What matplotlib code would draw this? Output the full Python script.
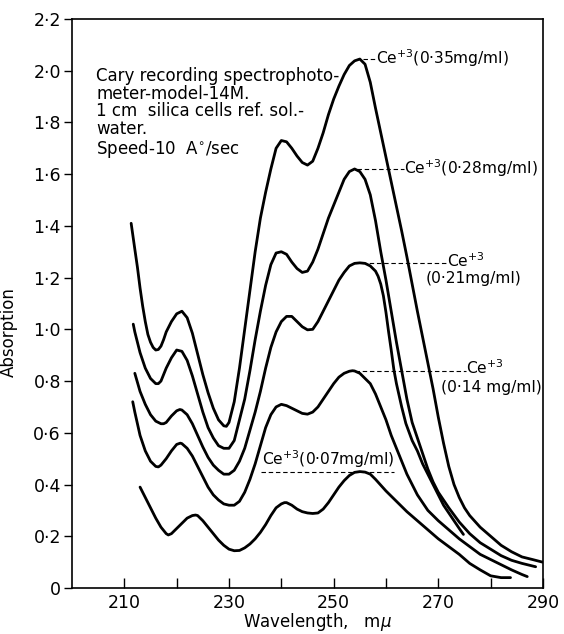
import matplotlib
matplotlib.use("Agg")
import matplotlib.pyplot as plt
from matplotlib.ticker import FixedLocator

plt.rcParams['font.family'] = ['DejaVu Sans']
plt.rcParams['mathtext.fontset'] = 'dejavusans'

# Absorption spectra of Ce(+3) solutions, wavelength in m-micron
wl_035 = [211.3, 212, 212.5, 213, 213.5, 214, 214.5, 215, 215.5, 216, 216.5, 217, 217.5, 218, 219, 220,
          221, 222, 223, 224, 225, 226, 227, 228, 229, 229.5, 230, 231, 232, 233, 234, 235, 236, 237,
          238, 239, 240, 241, 242, 243, 244, 245, 246, 247, 248, 249, 250, 251, 252, 253, 254, 255,
          256, 257, 258, 259, 260, 261, 262, 263, 264, 265, 266, 267, 268, 269, 270, 271, 272, 273,
          274, 275, 276, 278, 280, 282, 284, 286, 288, 289.9]
ab_035 = [1.41, 1.31, 1.24, 1.16, 1.09, 1.03, 0.98, 0.95, 0.93, 0.92, 0.922, 0.935, 0.96, 0.99, 1.03,
          1.06, 1.07, 1.045, 0.985, 0.905, 0.825, 0.755, 0.695, 0.65, 0.627, 0.625, 0.64, 0.72, 0.85,
          1.00, 1.15, 1.30, 1.43, 1.53, 1.62, 1.70, 1.73, 1.725, 1.70, 1.67, 1.645, 1.635, 1.65, 1.70,
          1.76, 1.83, 1.89, 1.94, 1.985, 2.02, 2.038, 2.045, 2.025, 1.955, 1.855, 1.76, 1.665, 1.57,
          1.475, 1.38, 1.28, 1.175, 1.07, 0.97, 0.87, 0.77, 0.66, 0.56, 0.47, 0.40, 0.35, 0.31, 0.28,
          0.235, 0.20, 0.165, 0.14, 0.12, 0.11, 0.10]

wl_028 = [211.7, 212, 213, 214, 215, 216, 216.5, 217, 218, 219, 220, 221, 222, 223, 224, 225, 226, 227,
          228, 229, 230, 231, 232, 233, 234, 235, 236, 237, 238, 239, 240, 241, 242, 243, 244, 245,
          246, 247, 248, 249, 250, 251, 252, 253, 254, 255, 256, 257, 258, 259, 260, 261, 262, 263,
          264, 265, 266, 267, 268, 269, 270, 272, 274, 276, 278, 280, 282, 284, 286, 288.6]
ab_028 = [1.02, 0.99, 0.91, 0.85, 0.81, 0.79, 0.79, 0.80, 0.85, 0.89, 0.92, 0.915, 0.88, 0.82, 0.75,
          0.68, 0.62, 0.58, 0.55, 0.54, 0.54, 0.57, 0.65, 0.73, 0.84, 0.96, 1.07, 1.17, 1.25, 1.295,
          1.30, 1.29, 1.26, 1.235, 1.22, 1.225, 1.26, 1.31, 1.37, 1.43, 1.48, 1.53, 1.58, 1.61, 1.62,
          1.61, 1.58, 1.52, 1.42, 1.30, 1.19, 1.07, 0.95, 0.84, 0.73, 0.64, 0.58, 0.52, 0.46, 0.41,
          0.37, 0.31, 0.255, 0.21, 0.175, 0.15, 0.125, 0.107, 0.095, 0.082]

wl_021 = [212, 213, 214, 215, 216, 217, 217.5, 218, 219, 220, 220.6, 221, 222, 223, 224, 225, 226, 227,
          228, 229, 230, 231, 232, 233, 234, 235, 236, 237, 238, 239, 240, 241, 242, 243, 244, 245,
          246, 247, 248, 249, 250, 251, 252, 253, 254, 255, 256, 257, 258, 258.5, 259, 259.5, 260,
          260.5, 261, 261.5, 262, 263, 263.8, 265, 266, 267, 268, 269, 270, 271, 272, 273, 274, 274.8]
ab_021 = [0.83, 0.76, 0.71, 0.67, 0.645, 0.635, 0.635, 0.64, 0.665, 0.685, 0.69, 0.688, 0.67, 0.635,
          0.59, 0.545, 0.505, 0.475, 0.455, 0.44, 0.44, 0.455, 0.49, 0.54, 0.61, 0.68, 0.76, 0.85,
          0.93, 0.99, 1.03, 1.05, 1.05, 1.03, 1.01, 0.998, 1.00, 1.03, 1.07, 1.11, 1.15, 1.19, 1.22,
          1.245, 1.255, 1.257, 1.255, 1.245, 1.225, 1.205, 1.175, 1.13, 1.065, 0.99, 0.92, 0.845,
          0.79, 0.70, 0.636, 0.57, 0.53, 0.48, 0.44, 0.40, 0.36, 0.32, 0.29, 0.26, 0.23, 0.207]

wl_014 = [211.6, 212, 213, 214, 215, 216, 216.5, 217, 218, 219, 220, 220.7, 221, 222, 223, 224, 225,
          226, 227, 228, 229, 230, 231, 232, 233, 234, 235, 236, 237, 238, 239, 240, 241, 242, 243,
          244, 245, 246, 247, 248, 249, 250, 251, 252, 253, 253.6, 254, 255, 256, 257, 258, 259, 260,
          261, 262, 263, 264, 265, 266, 268, 270, 272, 274, 276, 278, 280, 282, 284, 286, 287]
ab_014 = [0.72, 0.68, 0.59, 0.53, 0.49, 0.47, 0.468, 0.475, 0.50, 0.53, 0.555, 0.56, 0.558, 0.54, 0.51,
          0.47, 0.43, 0.39, 0.36, 0.34, 0.325, 0.32, 0.32, 0.335, 0.37, 0.42, 0.48, 0.55, 0.62, 0.67,
          0.70, 0.71, 0.705, 0.695, 0.685, 0.675, 0.672, 0.68, 0.70, 0.73, 0.76, 0.79, 0.815, 0.83,
          0.838, 0.84, 0.839, 0.83, 0.81, 0.79, 0.75, 0.70, 0.65, 0.59, 0.54, 0.49, 0.44, 0.40, 0.36,
          0.30, 0.26, 0.225, 0.19, 0.16, 0.13, 0.11, 0.09, 0.07, 0.052, 0.044]

wl_007 = [213, 214, 215, 216, 217, 218, 218.4, 219, 220, 221, 222, 223, 223.6, 224, 225, 226, 227, 228,
          229, 230, 231, 232, 233, 234, 235, 236, 237, 238, 239, 240, 240.6, 241, 242, 243, 244, 245,
          246, 247, 248, 249, 250, 251, 252, 253, 254, 255, 256, 257, 258, 260, 262, 264, 266, 268,
          270, 272, 274, 276, 278, 280, 282, 283.8]
ab_007 = [0.39, 0.35, 0.31, 0.27, 0.235, 0.21, 0.205, 0.21, 0.23, 0.25, 0.27, 0.28, 0.282, 0.28, 0.26,
          0.235, 0.21, 0.185, 0.165, 0.15, 0.144, 0.145, 0.155, 0.17, 0.19, 0.215, 0.245, 0.28, 0.31,
          0.325, 0.33, 0.33, 0.32, 0.305, 0.295, 0.29, 0.288, 0.29, 0.305, 0.33, 0.36, 0.39, 0.415,
          0.435, 0.447, 0.45, 0.448, 0.44, 0.42, 0.375, 0.335, 0.295, 0.26, 0.225, 0.19, 0.16, 0.13,
          0.095, 0.07, 0.047, 0.04, 0.04]

concentrations = ['0·35mg/ml', '0·28mg/ml', '0·21mg/ml', '0·14 mg/ml', '0·07mg/ml']
peak_wl = [255.0, 254.0, 255.0, 253.6, 255.0]
peak_ab = [2.045, 1.62, 1.257, 0.84, 0.45]

x_major = [210, 230, 250, 270, 290]
x_minor = [220, 240, 260, 280]
y_ticks = [0, 0.2, 0.4, 0.6, 0.8, 1.0, 1.2, 1.4, 1.6, 1.8, 2.0, 2.2]
y_labels = ['0', '0·2', '0·4', '0·6', '0·8', '1·0', '1·2', '1·4', '1·6', '1·8', '2·0', '2·2']

fig = plt.figure(figsize=(5.64, 6.34), dpi=100)
ax = fig.add_axes([0.1277, 0.0726, 0.835, 0.8975])

for wl, ab in [(wl_035, ab_035), (wl_028, ab_028), (wl_021, ab_021), (wl_014, ab_014), (wl_007, ab_007)]:
    ax.plot(wl, ab, color='black', lw=2.0, solid_joinstyle='round', solid_capstyle='round')

ax.set_xlim(200, 290)
ax.set_ylim(0, 2.2)
ax.xaxis.set_major_locator(FixedLocator(x_major))
ax.xaxis.set_minor_locator(FixedLocator(x_minor))
ax.set_xticklabels([str(v) for v in x_major])
ax.set_yticks(y_ticks)
ax.set_yticklabels(y_labels)
ax.tick_params(axis='x', which='both', direction='in', length=7, width=1, labelsize=12.5, pad=4)
ax.tick_params(axis='y', direction='out', length=6, width=1, labelsize=12.5, pad=2)
for s in ax.spines.values():
    s.set_linewidth(1.2)

ax.set_xlabel('Wavelength,   m$\\mu$', fontsize=12)
ax.xaxis.set_label_coords(0.522, -0.04)
ax.set_ylabel('Absorption', fontsize=12)
ax.yaxis.set_label_coords(-0.115, 0.45)

ax.text(204.6, 2.015,
        'Cary recording spectrophoto-\nmeter-model-14M.\n1 cm  silica cells ref. sol.-\nwater.\nSpeed-10  A$^{\\circ}$/sec',
        fontsize=12, ha='left', va='top', linespacing=0.98)

dash = dict(color='black', lw=0.8, ls=(0, (4, 2.5)))
fs = 11.2

# 0.35 mg/ml
ax.plot([peak_wl[0] + 0.6, 258.0], [peak_ab[0], peak_ab[0]], **dash)
ax.text(258.0, peak_ab[0] + 0.005, 'Ce$^{+3}$(' + concentrations[0] + ')', fontsize=fs, va='center')
# 0.28 mg/ml
ax.plot([peak_wl[1] + 0.5, 263.4], [peak_ab[1], peak_ab[1]], **dash)
ax.text(263.4, peak_ab[1] + 0.005, 'Ce$^{+3}$(' + concentrations[1] + ')', fontsize=fs, va='center')
# 0.21 mg/ml
ax.plot([peak_wl[2] + 0.5, 271.7], [peak_ab[2], peak_ab[2]], **dash)
ax.text(271.7, peak_ab[2] + 0.01, 'Ce$^{+3}$', fontsize=fs, va='center')
ax.text(267.6, peak_ab[2] - 0.06, '(' + concentrations[2] + ')', fontsize=fs, va='center')
# 0.14 mg/ml
ax.plot([peak_wl[3] + 0.5, 275.2], [peak_ab[3], peak_ab[3]], **dash)
ax.text(275.2, peak_ab[3] + 0.01, 'Ce$^{+3}$', fontsize=fs, va='center')
ax.text(270.5, peak_ab[3] - 0.063, '(' + concentrations[3] + ')', fontsize=fs, va='center')
# 0.07 mg/ml
ax.plot([236.2, 261.6], [peak_ab[4], peak_ab[4]], **dash)
ax.text(236.3, peak_ab[4] + 0.008, 'Ce$^{+3}$(' + concentrations[4] + ')', fontsize=fs, va='bottom')

fig.savefig('out.png', dpi=100)
